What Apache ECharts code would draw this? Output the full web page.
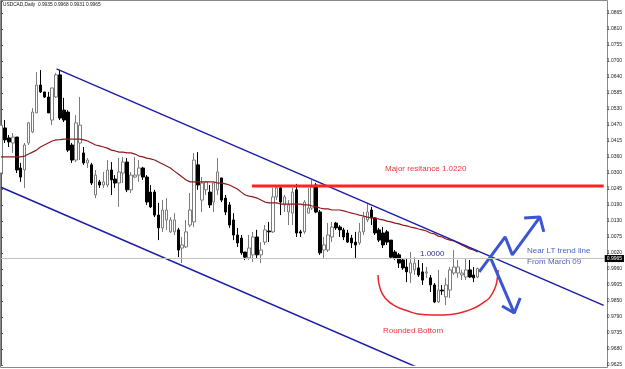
<!DOCTYPE html>
<html>
<head>
<meta charset="utf-8">
<script src="https://cdn.jsdelivr.net/npm/echarts@6.0.0/dist/echarts.min.js"></script>
<style>html,body{margin:0;padding:0;background:#fff;}#c{width:625px;height:369px;}</style>
</head>
<body>
<div id="c"></div>
<script>
// ---- data (USDCAD daily) ----
const TICK_LABELS = ['0.9625','0.9680','0.9735','0.9790','0.9850','0.9905','0.9960','1.0020','1.0075','1.0130','1.0190','1.0245','1.0300','1.0360','1.0415','1.0470','1.0530','1.0585','1.0640','1.0700','1.0755','1.0810','1.0865'];
const opens = [
1.0301,1.0460,1.0425,1.0407,1.0428,1.0319,1.0312,1.0407,1.0446,1.0513,
1.0611,1.0587,1.0569,1.0488,1.0569,1.0647,1.0523,1.0516,1.0400,1.0347,
1.0407,1.0372,1.0337,1.0330,1.0224,1.0270,1.0259,1.0259,1.0312,1.0280,
1.0266,1.0301,1.0340,1.0242,1.0287,1.0294,1.0319,1.0287,1.0234,1.0234,
1.0153,1.0108,1.0136,1.0094,1.0094,1.0101,1.0037,1.0041,1.0118,1.0129,
1.0330,1.0206,1.0242,1.0234,1.0199,1.0242,1.0284,1.0213,1.0189,1.0136,
1.0083,1.0072,1.0023,1.0002,1.0013,1.0076,1.0013,1.0058,1.0097,1.0094,
1.0217,1.0249,1.0189,1.0164,1.0160,1.0242,1.0094,1.0094,1.0160,1.0178,
1.0259,1.0164,1.0030,1.0030,1.0076,1.0125,1.0111,1.0101,1.0090,1.0072,
1.0058,1.0055,1.0094,1.0136,1.0171,1.0143,1.0101,1.0090,1.0094,1.0065,
1.0023,1.0013,0.9995,0.9970,0.9949,0.9960,0.9967,0.9953,0.9949,0.9932,
0.9907,0.9847,0.9889,0.9865,0.9889,0.9949,0.9949,0.9942,0.9935,0.9960,
0.9942,0.9935];
const closes = [
1.0470,1.0418,1.0411,1.0428,1.0312,1.0287,1.0400,1.0478,1.0516,1.0611,
1.0587,1.0569,1.0513,1.0601,1.0647,1.0495,1.0488,1.0382,1.0347,1.0478,
1.0470,1.0337,1.0347,1.0266,1.0294,1.0259,1.0270,1.0312,1.0277,1.0266,
1.0305,1.0340,1.0242,1.0294,1.0294,1.0319,1.0287,1.0199,1.0182,1.0153,
1.0108,1.0171,1.0171,1.0136,1.0136,1.0030,1.0048,1.0094,1.0171,1.0347,
1.0259,1.0266,1.0270,1.0189,1.0266,1.0305,1.0206,1.0164,1.0118,1.0083,
1.0055,1.0020,1.0005,1.0037,1.0076,1.0013,1.0030,1.0101,1.0094,1.0217,
1.0249,1.0199,1.0217,1.0189,1.0234,1.0090,1.0090,1.0199,1.0178,1.0252,
1.0164,1.0020,1.0048,1.0083,1.0111,1.0108,1.0101,1.0076,1.0058,1.0055,
1.0048,1.0094,1.0146,1.0164,1.0143,1.0090,1.0065,1.0048,1.0058,1.0005,
1.0002,0.9984,0.9967,0.9953,0.9984,0.9984,0.9942,0.9924,0.9953,0.9907,
0.9847,0.9889,0.9886,0.9907,0.9960,0.9970,0.9970,0.9949,0.9960,0.9935,
0.9932,0.9965];
const lows = [
1.0294,1.0407,1.0393,1.0372,1.0301,1.0270,1.0249,1.0400,1.0442,1.0513,
1.0583,1.0566,1.0513,1.0470,1.0566,1.0488,1.0481,1.0375,1.0337,1.0340,
1.0347,1.0330,1.0319,1.0259,1.0213,1.0249,1.0249,1.0252,1.0224,1.0249,
1.0182,1.0266,1.0234,1.0231,1.0284,1.0270,1.0277,1.0189,1.0178,1.0146,
1.0065,1.0094,1.0101,1.0090,1.0083,1.0005,0.9984,1.0037,1.0111,1.0111,
1.0242,1.0164,1.0224,1.0178,1.0164,1.0224,1.0199,1.0153,1.0108,1.0065,
1.0041,1.0013,0.9995,0.9995,0.9988,1.0002,0.9984,1.0048,1.0058,1.0090,
1.0206,1.0153,1.0164,1.0118,1.0118,1.0076,1.0076,1.0087,1.0160,1.0171,
1.0160,1.0013,1.0002,1.0023,1.0058,1.0101,1.0076,1.0065,1.0055,1.0037,
1.0002,1.0048,1.0083,1.0129,1.0118,1.0083,1.0058,1.0037,1.0048,1.0002,
0.9995,0.9967,0.9960,0.9917,0.9914,0.9942,0.9935,0.9907,0.9932,0.9882,
0.9843,0.9843,0.9872,0.9836,0.9861,0.9942,0.9932,0.9924,0.9924,0.9932,
0.9917,0.9931];
const highs = [
1.0488,1.0488,1.0435,1.0442,1.0428,1.0337,1.0407,1.0481,1.0530,1.0657,
1.0664,1.0587,1.0587,1.0601,1.0654,1.0664,1.0566,1.0523,1.0407,1.0506,
1.0569,1.0393,1.0354,1.0337,1.0312,1.0277,1.0305,1.0347,1.0340,1.0294,
1.0354,1.0358,1.0354,1.0305,1.0358,1.0347,1.0323,1.0294,1.0259,1.0242,
1.0196,1.0206,1.0213,1.0146,1.0160,1.0108,1.0076,1.0136,1.0231,1.0372,
1.0375,1.0287,1.0270,1.0259,1.0266,1.0354,1.0284,1.0224,1.0199,1.0160,
1.0108,1.0083,1.0023,1.0083,1.0094,1.0101,1.0058,1.0118,1.0129,1.0249,
1.0252,1.0252,1.0224,1.0206,1.0249,1.0263,1.0101,1.0206,1.0249,1.0277,
1.0266,1.0171,1.0076,1.0125,1.0129,1.0129,1.0118,1.0108,1.0101,1.0083,
1.0094,1.0125,1.0164,1.0196,1.0182,1.0146,1.0108,1.0111,1.0101,1.0065,
1.0030,1.0020,1.0002,1.0002,1.0023,1.0005,0.9995,0.9984,0.9970,0.9942,
0.9914,0.9960,0.9907,0.9932,0.9970,1.0030,0.9995,0.9960,1.0002,0.9995,
0.9970,0.9968];
const maValues = [
1.0358,1.0358,1.0358,1.0358,1.0358,1.0358,1.0361,1.0368,1.0375,1.0382,
1.0393,1.0400,1.0407,1.0414,1.0418,1.0419,1.0421,1.0421,1.0421,1.0421,
1.0421,1.0418,1.0414,1.0407,1.0400,1.0397,1.0393,1.0389,1.0382,1.0379,
1.0375,1.0375,1.0372,1.0372,1.0368,1.0361,1.0358,1.0354,1.0351,1.0347,
1.0340,1.0333,1.0326,1.0319,1.0308,1.0298,1.0287,1.0277,1.0270,1.0270,
1.0270,1.0270,1.0270,1.0270,1.0270,1.0266,1.0266,1.0263,1.0259,1.0252,
1.0245,1.0234,1.0224,1.0220,1.0217,1.0213,1.0206,1.0199,1.0196,1.0196,
1.0196,1.0192,1.0192,1.0192,1.0192,1.0192,1.0192,1.0189,1.0189,1.0185,
1.0182,1.0178,1.0175,1.0175,1.0171,1.0171,1.0171,1.0168,1.0164,1.0160,
1.0157,1.0153,1.0150,1.0146,1.0143,1.0143,1.0139,1.0136,1.0132,1.0129,
1.0125,1.0122,1.0118,1.0115,1.0111,1.0108,1.0104,1.0101,1.0097,1.0090,
1.0087,1.0079,1.0076,1.0069,1.0065,1.0062,1.0055,1.0048,1.0041,1.0034,
1.0030,1.0023];
const TOTAL_SLOTS = 154; // candles + empty future space on the right
const categories = Array.from({length: TOTAL_SLOTS}, (_, i) => 'D' + (i + 1));
const lastPrice = 0.9965;
const resistanceLevel = 1.0256;
const roundLevel = 1.0000;
// annotation drawings, as [bar index, price]
const upperChannel = [[14.1, 1.0668], [153, 0.9835]];
const lowerChannel = [[0, 1.0251], [105.8, 0.9616]];
const resistanceLine = [[63.7, resistanceLevel], [153, resistanceLevel]];
const levelLine = [[64.1, roundLevel], [121.4, roundLevel]];
const roundedBottom = [[95.7, 0.9942], [96.2, 0.9896], [97.5, 0.9861], [100.0, 0.9833], [103.3, 0.9815], [105.8, 0.9805], [109.6, 0.9801], [112.6, 0.9801], [116.4, 0.9808], [120.2, 0.9826], [122.7, 0.9847], [124.2, 0.9865], [125.5, 0.9900], [126.0, 0.9932], [126.2, 0.9960]];
const upZigzag = [[121.4, 0.9953], [128.0, 1.0076], [129.8, 1.0013], [136.8, 1.0146]];
const upHead = [[132.8, 1.0143], [136.8, 1.0146], [137.8, 1.0094]];
const downShaft = [[124.2, 1.0005], [130.3, 0.9808]];
const downHead = [[127.2, 0.9833], [130.3, 0.9808], [131.8, 0.9861]];

// ---- chart ----
const Y_MIN = 0.9625;
const Y_STEP = 0.124 / 22;
const Y_MAX = Y_MIN + Y_STEP * (364 / 16);
const candleData = opens.map((o, i) => [o, closes[i], lows[i], highs[i]]);
const chart = echarts.init(document.getElementById('c'), null, {renderer: 'canvas'});
const FONT = '"Liberation Sans", Arial, sans-serif';
function drawLine(data, color, width, extra) {
  return Object.assign({
    type: 'line', xAxisIndex: 1, yAxisIndex: 0, data: data, symbol: 'none', silent: true,
    lineStyle: {color: color, width: width}, z: 4
  }, extra || {});
}
chart.setOption({
  animation: false,
  backgroundColor: '#ffffff',
  grid: {left: 1, right: 18, top: 1, bottom: 4, show: false},
  xAxis: [
    {type: 'category', data: categories, boundaryGap: false, show: false},
    {type: 'value', min: 0, max: TOTAL_SLOTS - 1, show: false}
  ],
  yAxis: {
    type: 'value', position: 'right', min: Y_MIN, max: Y_MAX, interval: Y_STEP,
    axisLine: {show: true, lineStyle: {color: '#555', width: 1}},
    axisTick: {show: true, length: 2, lineStyle: {color: '#555'}},
    splitLine: {show: false},
    axisLabel: {
      fontSize: 5, color: '#222', margin: 3, fontFamily: FONT,
      formatter: function (v) {
        const k = Math.round((v - Y_MIN) / Y_STEP);
        return TICK_LABELS[k] !== undefined && Math.abs(v - (Y_MIN + k * Y_STEP)) < 1e-6 ? TICK_LABELS[k] : '';
      }
    }
  },
  series: [
    {
      type: 'candlestick', xAxisIndex: 0, yAxisIndex: 0, data: candleData, barWidth: 3, silent: true, z: 2,
      itemStyle: {color: '#ffffff', color0: '#000000', borderColor: '#7c7c7c', borderColor0: '#000000', borderWidth: 1},
      markLine: {
        silent: true, symbol: 'none', animation: false,
        lineStyle: {color: '#c4c4c4', type: 'solid', width: 1},
        label: {position: 'end', formatter: String(lastPrice.toFixed(4)), backgroundColor: '#000', color: '#fff', fontSize: 5, padding: [1, 2, 1, 2], distance: 1, fontFamily: FONT},
        data: [{yAxis: lastPrice}]
      }
    },
    {type: 'line', xAxisIndex: 0, yAxisIndex: 0, data: maValues, symbol: 'none', silent: true, lineStyle: {color: '#8e1b1b', width: 1.2}, z: 3},
    drawLine(upperChannel, '#1c1ca8', 1.5),
    drawLine(lowerChannel, '#1c1ca8', 1.5),
    drawLine(resistanceLine, '#ff2424', 3),
    drawLine(levelLine, '#a8a8a8', 1, {lineStyle: {color: '#a8a8a8', width: 1, type: [4, 3]}}),
    drawLine(roundedBottom, '#e5262b', 1.5, {smooth: true}),
    drawLine(upZigzag, '#3a55d6', 3),
    drawLine(upHead, '#3a55d6', 3),
    drawLine(downShaft, '#3a55d6', 3),
    drawLine(downHead, '#3a55d6', 3)
  ],
  graphic: [
    {type: 'rect', silent: true, z: -1, shape: {x: 0.5, y: 0.5, width: 607, height: 367}, style: {fill: 'none', stroke: '#8a8a8a', lineWidth: 1}},
    {type: 'text', x: 3, y: 5, silent: true, style: {text: 'USDCAD,Daily  0.9935 0.9968 0.9931 0.9965', fill: '#111', font: '4.8px ' + FONT, verticalAlign: 'middle'}},
    {type: 'text', x: 385, y: 169, silent: true, style: {text: 'Major resitance 1.0220', fill: '#e8383d', font: '8px ' + FONT, verticalAlign: 'middle'}},
    {type: 'text', x: 420, y: 254, silent: true, style: {text: '1.0000', fill: '#2b2f8f', font: '8px ' + FONT, verticalAlign: 'middle'}},
    {type: 'text', x: 527, y: 251, silent: true, style: {text: 'Near LT trend line', fill: '#4d5fc6', font: '8px ' + FONT, verticalAlign: 'middle'}},
    {type: 'text', x: 527, y: 262, silent: true, style: {text: 'From March 09', fill: '#4d5fc6', font: '8px ' + FONT, verticalAlign: 'middle'}},
    {type: 'text', x: 383, y: 331, silent: true, style: {text: 'Rounded Bottom', fill: '#e8383d', font: '8px ' + FONT, verticalAlign: 'middle'}}
  ]
});
</script>
</body>
</html>
